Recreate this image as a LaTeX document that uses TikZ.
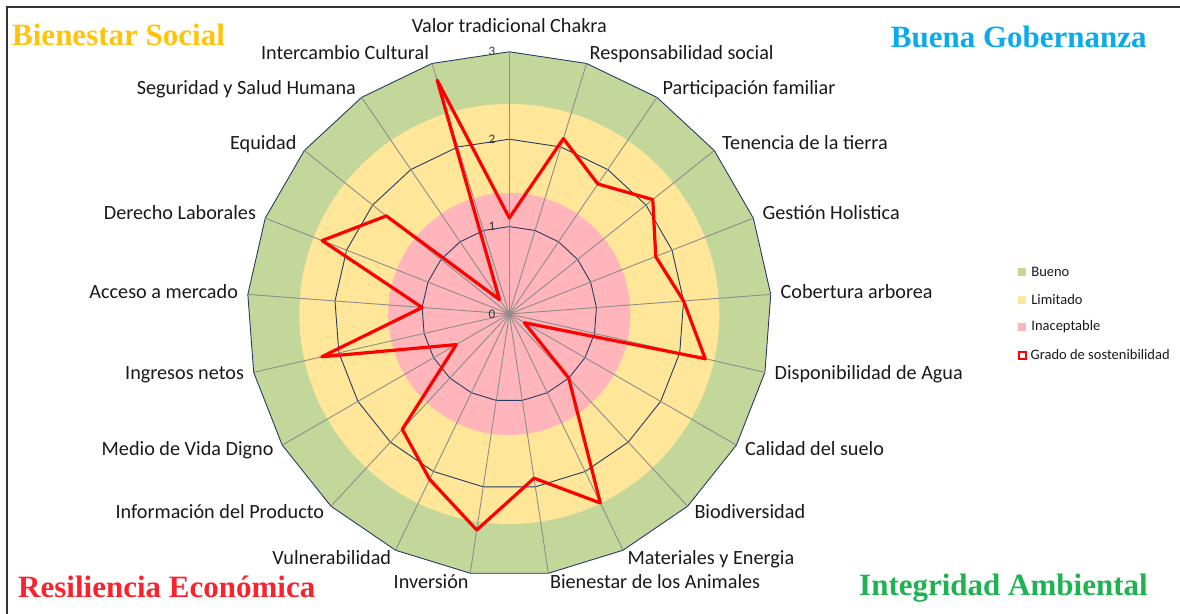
\documentclass[tikz,border=0pt]{standalone}
\usepackage{fontspec}
\setmainfont{Carlito}
\newfontfamily\titlefont{Liberation Serif}
\usepackage{xcolor}
\usepackage{tikz}
\usetikzlibrary{positioning,calc}
\definecolor{bueno}{RGB}{196,215,155}
\definecolor{limitado}{RGB}{255,230,153}
\definecolor{inaceptable}{RGB}{255,181,186}
\definecolor{gridnavy}{RGB}{38,58,100}
\definecolor{spokegray}{RGB}{140,140,140}
\definecolor{socialgold}{RGB}{255,196,10}
\definecolor{gobblue}{RGB}{10,170,235}
\definecolor{ecored}{RGB}{250,35,45}
\definecolor{ambgreen}{RGB}{30,178,80}
\def\radunit{87.4}
\tikzset{radar/.style={x=1pt,y=1pt,font=\fontsize{20.2}{22}\selectfont},
    axislabel/.style={inner sep=0pt,text height=10.5pt,text depth=0pt,text=black!90},
    ring/.style={draw=gridnavy,line width=0.9pt},
    spoke/.style={draw=spokegray,line width=0.9pt},
    tick/.style={font=\fontsize{13}{14}\selectfont,text=black!80,anchor=east,inner sep=1pt},
    score/.style={draw=red,line width=3.2pt,line join=round},
    corner/.style={font=\titlefont\bfseries\fontsize{31}{34}\selectfont,inner sep=0pt,anchor=base west},
    key/.style={minimum size=8pt,inner sep=0pt},
    keytext/.style={font=\fontsize{14.5}{16}\selectfont,inner sep=0pt,text=black!90}}

\begin{document}
\begin{tikzpicture}[radar]
    \useasboundingbox (-509.3,-299) rectangle (670.7,314);
    % frame
    \draw[black!80,line width=2pt] (-502.3,-305) -- (-502.3,307) -- (680,307);

    % bands
    \fill[bueno] (90:3*\radunit) \foreach \j in {1,...,20}{ -- ({90-\j*360/21}:3*\radunit)} -- cycle;
    \fill[limitado] (0,0) circle (210);
    \fill[inaceptable] (0,0) circle (121);

    % grid
    \foreach \k in {1,2,3}
        \draw[ring] (90:\k*\radunit) \foreach \j in {1,...,20}{ -- ({90-\j*360/21}:{\k*\radunit})} -- cycle;
    \foreach \j in {0,...,20}
        \draw[spoke] (0,0) -- ({90-\j*360/21}:3*\radunit);
    \foreach \k in {0,...,3}
        \node[tick] (tick-\k) at (-13,{\k*\radunit}) {\k};

    % scores
    \foreach \i/\v in {0/1.1,1/2.1,2/1.8,3/2.1,4/1.8,5/2.0,6/2.3,7/0.2,8/1.0,9/2.4,10/1.9,
                       11/2.5,12/2.1,13/1.8,14/0.7,15/2.2,16/1.0,17/2.3,18/1.8,19/0.2,20/2.8}
        \coordinate (p-\i) at ({90-\i*360/21}:{\v*\radunit});
    \draw[score] (p-0) \foreach \i in {1,...,20}{ -- (p-\i)} -- cycle;

    % axis labels
    \node[axislabel,anchor=base] (lab-0) at (90:281.5) {Valor tradicional Chakra};
    \foreach \i/\txt in {1/Responsabilidad social,2/Participación familiar,3/Tenencia de la tierra,
                         4/Gestión Holistica,5/Cobertura arborea,6/Disponibilidad de Agua,
                         7/Calidad del suelo,8/Biodiversidad,9/Materiales y Energia,
                         10/Bienestar de los Animales,11/Inversión,12/Vulnerabilidad,
                         13/Información del Producto,14/Medio de Vida Digno,15/Ingresos netos,
                         16/Acceso a mercado,17/Derecho Laborales,18/Equidad,
                         19/Seguridad y Salud Humana,20/Intercambio Cultural}{
        \pgfmathsetmacro\th{90-\i*360/21}
        \ifnum\i<11 \def\anc{west}\else\def\anc{east}\fi
        \node[axislabel,anchor=\anc] (lab-\i) at (\th:272) {\txt};
    }

    % dimensions
    \node[corner,text=socialgold] (social) at (-497.3,268.3) {Bienestar Social};
    \node[corner,text=gobblue] (gobernanza) at (381.4,266) {Buena Gobernanza};
    \node[corner,text=ecored] (economica) at (-491.3,-283) {Resiliencia Económica};
    \node[corner,text=ambgreen] (ambiental) at (349.7,-281.7) {Integridad Ambiental};

    % legend
    \node[key,fill=bueno] (key-bueno) at (512.7,42) {};
    \node[key,fill=limitado] (key-limitado) at (512.7,14) {};
    \node[key,fill=inaceptable] (key-inaceptable) at (512.7,-13) {};
    \node[key,draw=red,line width=2pt,fill=white,minimum size=7pt] (key-grado) at (512.7,-41) {};
    \node[keytext,right=5pt of key-bueno] (txt-bueno) {Bueno};
    \node[keytext,right=5pt of key-limitado] (txt-limitado) {Limitado};
    \node[keytext,right=5pt of key-inaceptable] (txt-inaceptable) {Inaceptable};
    \node[keytext,right=4pt of key-grado] (txt-grado) {Grado de sostenibilidad};
\end{tikzpicture}
\end{document}
